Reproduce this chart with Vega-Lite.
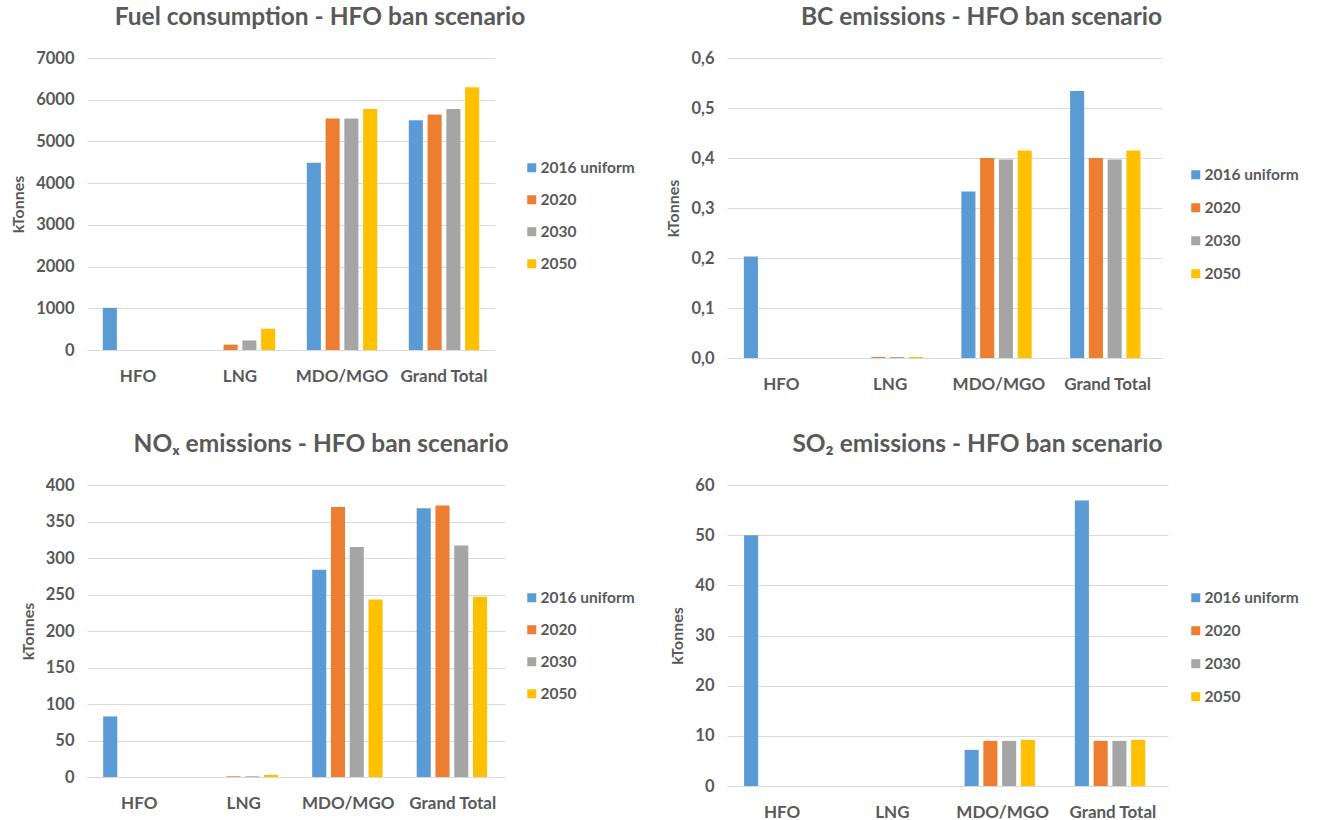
{
  "$schema": "https://vega.github.io/schema/vega-lite/v6.json",
  "background": "white",
  "padding": {"left": 10, "top": 4, "right": 0, "bottom": 0},
  "datasets": {
    "fuel": [
      {"fuel": "HFO", "year": "2016 uniform", "value": 1010},
      {"fuel": "HFO", "year": "2020", "value": 0},
      {"fuel": "HFO", "year": "2030", "value": 0},
      {"fuel": "HFO", "year": "2050", "value": 0},
      {"fuel": "LNG", "year": "2016 uniform", "value": 0},
      {"fuel": "LNG", "year": "2020", "value": 128},
      {"fuel": "LNG", "year": "2030", "value": 230},
      {"fuel": "LNG", "year": "2050", "value": 510},
      {"fuel": "MDO/MGO", "year": "2016 uniform", "value": 4490},
      {"fuel": "MDO/MGO", "year": "2020", "value": 5550},
      {"fuel": "MDO/MGO", "year": "2030", "value": 5550},
      {"fuel": "MDO/MGO", "year": "2050", "value": 5780},
      {"fuel": "Grand Total", "year": "2016 uniform", "value": 5510},
      {"fuel": "Grand Total", "year": "2020", "value": 5645},
      {"fuel": "Grand Total", "year": "2030", "value": 5780},
      {"fuel": "Grand Total", "year": "2050", "value": 6300}
    ],
    "bc": [
      {"fuel": "HFO", "year": "2016 uniform", "value": 0.203},
      {"fuel": "HFO", "year": "2020", "value": 0},
      {"fuel": "HFO", "year": "2030", "value": 0},
      {"fuel": "HFO", "year": "2050", "value": 0},
      {"fuel": "LNG", "year": "2016 uniform", "value": 0},
      {"fuel": "LNG", "year": "2020", "value": 0.002},
      {"fuel": "LNG", "year": "2030", "value": 0.002},
      {"fuel": "LNG", "year": "2050", "value": 0.002},
      {"fuel": "MDO/MGO", "year": "2016 uniform", "value": 0.333},
      {"fuel": "MDO/MGO", "year": "2020", "value": 0.4},
      {"fuel": "MDO/MGO", "year": "2030", "value": 0.397},
      {"fuel": "MDO/MGO", "year": "2050", "value": 0.415},
      {"fuel": "Grand Total", "year": "2016 uniform", "value": 0.534},
      {"fuel": "Grand Total", "year": "2020", "value": 0.4},
      {"fuel": "Grand Total", "year": "2030", "value": 0.397},
      {"fuel": "Grand Total", "year": "2050", "value": 0.415}
    ],
    "nox": [
      {"fuel": "HFO", "year": "2016 uniform", "value": 83},
      {"fuel": "HFO", "year": "2020", "value": 0},
      {"fuel": "HFO", "year": "2030", "value": 0},
      {"fuel": "HFO", "year": "2050", "value": 0},
      {"fuel": "LNG", "year": "2016 uniform", "value": 0},
      {"fuel": "LNG", "year": "2020", "value": 1},
      {"fuel": "LNG", "year": "2030", "value": 1},
      {"fuel": "LNG", "year": "2050", "value": 3},
      {"fuel": "MDO/MGO", "year": "2016 uniform", "value": 284},
      {"fuel": "MDO/MGO", "year": "2020", "value": 370},
      {"fuel": "MDO/MGO", "year": "2030", "value": 315},
      {"fuel": "MDO/MGO", "year": "2050", "value": 243},
      {"fuel": "Grand Total", "year": "2016 uniform", "value": 368},
      {"fuel": "Grand Total", "year": "2020", "value": 372},
      {"fuel": "Grand Total", "year": "2030", "value": 317},
      {"fuel": "Grand Total", "year": "2050", "value": 247}
    ],
    "so2": [
      {"fuel": "HFO", "year": "2016 uniform", "value": 50},
      {"fuel": "HFO", "year": "2020", "value": 0},
      {"fuel": "HFO", "year": "2030", "value": 0},
      {"fuel": "HFO", "year": "2050", "value": 0},
      {"fuel": "LNG", "year": "2016 uniform", "value": 0},
      {"fuel": "LNG", "year": "2020", "value": 0},
      {"fuel": "LNG", "year": "2030", "value": 0},
      {"fuel": "LNG", "year": "2050", "value": 0},
      {"fuel": "MDO/MGO", "year": "2016 uniform", "value": 7.2},
      {"fuel": "MDO/MGO", "year": "2020", "value": 9.0},
      {"fuel": "MDO/MGO", "year": "2030", "value": 9.0},
      {"fuel": "MDO/MGO", "year": "2050", "value": 9.2},
      {"fuel": "Grand Total", "year": "2016 uniform", "value": 56.9},
      {"fuel": "Grand Total", "year": "2020", "value": 9.0},
      {"fuel": "Grand Total", "year": "2030", "value": 9.0},
      {"fuel": "Grand Total", "year": "2050", "value": 9.2}
    ]
  },
  "columns": 2,
  "bounds": "flush",
  "align": "all",
  "spacing": {"row": 126, "column": 199},
  "resolve": {"scale": {"color": "independent"}, "legend": {"color": "independent"}},
  "concat": [
    {
      "data": {"name": "fuel"},
      "width": 408, "height": 292,
      "title": {"text": "Fuel consumption - HFO ban scenario", "dx": 29, "offset": 20},
      "mark": {"type": "bar"},
      "encoding": {
        "x": {"field": "fuel", "type": "nominal", "sort": ["HFO", "LNG", "MDO/MGO", "Grand Total"], "scale": {"paddingInner": 0.31, "paddingOuter": 0.155}, "axis": {"title": null, "labelAngle": 0}},
        "xOffset": {"field": "year", "type": "nominal", "sort": ["2016 uniform", "2020", "2030", "2050"], "scale": {"paddingInner": 0.25, "paddingOuter": 0}},
        "y": {"field": "value", "type": "quantitative", "scale": {"domain": [0, 7000]}, "axis": {"title": "kTonnes", "format": "d", "values": [0, 1000, 2000, 3000, 4000, 5000, 6000, 7000]}},
        "color": {"field": "year", "type": "nominal", "sort": ["2016 uniform", "2020", "2030", "2050"], "scale": {"domain": ["2016 uniform", "2020", "2030", "2050"], "range": ["#5B9BD5", "#ED7D31", "#A5A5A5", "#FFC000"]}, "legend": {"title": null, "orient": "none", "legendX": 437, "legendY": 102, "rowPadding": 15}}
      }
    },
    {
      "data": {"name": "bc"},
      "width": 435, "height": 300,
      "title": {"text": "BC emissions - HFO ban scenario", "dx": 37, "offset": 20},
      "mark": {"type": "bar"},
      "encoding": {
        "x": {"field": "fuel", "type": "nominal", "sort": ["HFO", "LNG", "MDO/MGO", "Grand Total"], "scale": {"paddingInner": 0.31, "paddingOuter": 0.155}, "axis": {"title": null, "labelAngle": 0}},
        "xOffset": {"field": "year", "type": "nominal", "sort": ["2016 uniform", "2020", "2030", "2050"], "scale": {"paddingInner": 0.25, "paddingOuter": 0}},
        "y": {"field": "value", "type": "quantitative", "scale": {"domain": [0, 0.6]}, "axis": {"title": "kTonnes", "values": [0, 0.1, 0.2, 0.3, 0.4, 0.5, 0.6], "labelExpr": "replace(format(datum.value, '.1f'), '.', ',')"}},
        "color": {"field": "year", "type": "nominal", "sort": ["2016 uniform", "2020", "2030", "2050"], "scale": {"domain": ["2016 uniform", "2020", "2030", "2050"], "range": ["#5B9BD5", "#ED7D31", "#A5A5A5", "#FFC000"]}, "legend": {"title": null, "orient": "none", "legendX": 461, "legendY": 109, "rowPadding": 16}}
      }
    },
    {
      "data": {"name": "nox"},
      "width": 418, "height": 292,
      "title": {"text": "NOₓ emissions - HFO ban scenario", "dx": 25, "offset": 20},
      "mark": {"type": "bar"},
      "encoding": {
        "x": {"field": "fuel", "type": "nominal", "sort": ["HFO", "LNG", "MDO/MGO", "Grand Total"], "scale": {"paddingInner": 0.31, "paddingOuter": 0.155}, "axis": {"title": null, "labelAngle": 0}},
        "xOffset": {"field": "year", "type": "nominal", "sort": ["2016 uniform", "2020", "2030", "2050"], "scale": {"paddingInner": 0.25, "paddingOuter": 0}},
        "y": {"field": "value", "type": "quantitative", "scale": {"domain": [0, 400]}, "axis": {"title": "kTonnes", "values": [0, 50, 100, 150, 200, 250, 300, 350, 400]}},
        "color": {"field": "year", "type": "nominal", "sort": ["2016 uniform", "2020", "2030", "2050"], "scale": {"domain": ["2016 uniform", "2020", "2030", "2050"], "range": ["#5B9BD5", "#ED7D31", "#A5A5A5", "#FFC000"]}, "legend": {"title": null, "orient": "none", "legendX": 437, "legendY": 105, "rowPadding": 15}}
      }
    },
    {
      "data": {"name": "so2"},
      "width": 441, "height": 301,
      "title": {"text": "SO₂ emissions - HFO ban scenario", "dx": 30, "offset": 20},
      "mark": {"type": "bar"},
      "encoding": {
        "x": {"field": "fuel", "type": "nominal", "sort": ["HFO", "LNG", "MDO/MGO", "Grand Total"], "scale": {"paddingInner": 0.31, "paddingOuter": 0.155}, "axis": {"title": null, "labelAngle": 0}},
        "xOffset": {"field": "year", "type": "nominal", "sort": ["2016 uniform", "2020", "2030", "2050"], "scale": {"paddingInner": 0.25, "paddingOuter": 0}},
        "y": {"field": "value", "type": "quantitative", "scale": {"domain": [0, 60]}, "axis": {"title": "kTonnes", "values": [0, 10, 20, 30, 40, 50, 60]}},
        "color": {"field": "year", "type": "nominal", "sort": ["2016 uniform", "2020", "2030", "2050"], "scale": {"domain": ["2016 uniform", "2020", "2030", "2050"], "range": ["#5B9BD5", "#ED7D31", "#A5A5A5", "#FFC000"]}, "legend": {"title": null, "orient": "none", "legendX": 461, "legendY": 105, "rowPadding": 16}}
      }
    }
  ],
  "config": {
    "font": "Lato",
    "view": {"stroke": null},
    "title": {"font": "Lato", "fontSize": 24.5, "fontWeight": "bold", "color": "#595959", "anchor": "middle", "frame": "group"},
    "axis": {"labelFont": "Lato", "labelFontSize": 16.5, "labelFontWeight": "bold", "labelColor": "#595959", "titleFont": "Lato", "titleFontSize": 16, "titleFontWeight": "bold", "titleColor": "#595959", "gridColor": "#D9D9D9", "domainColor": "#D9D9D9", "ticks": false},
    "axisY": {"domain": false, "labelPadding": 13, "titlePadding": 9, "grid": true},
    "axisX": {"grid": false, "domain": true, "domainWidth": 1, "labelFontSize": 17, "labelPadding": 18},
    "legend": {"labelFont": "Lato", "labelFontSize": 15.5, "labelFontWeight": "bold", "labelColor": "#595959", "symbolType": "square", "symbolSize": 81, "symbolStrokeWidth": 0, "labelOffset": 1}
  }
}
